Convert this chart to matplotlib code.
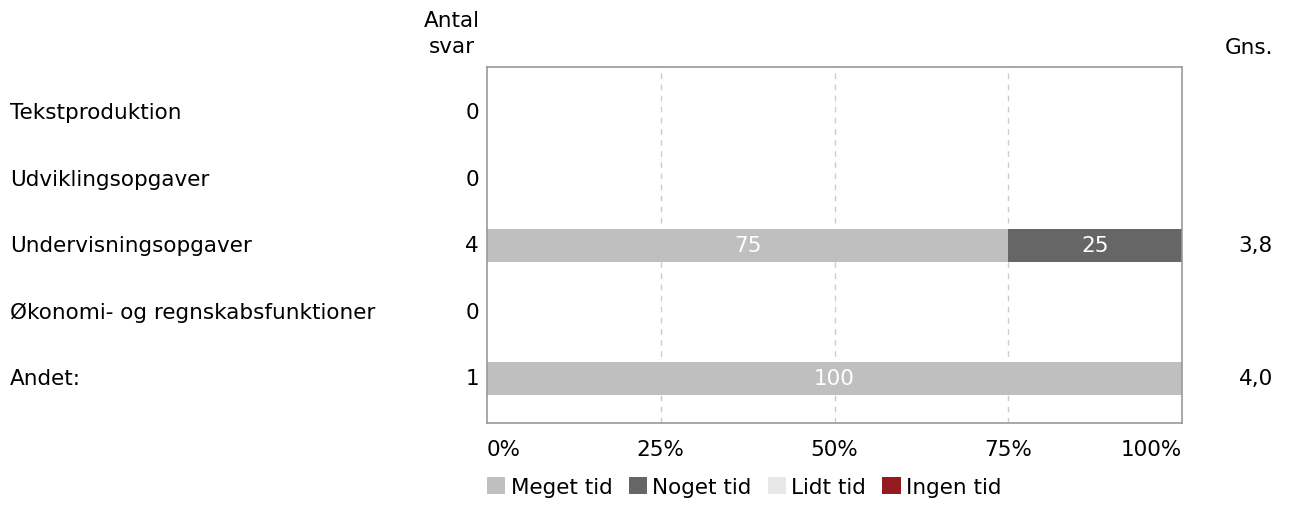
import matplotlib
matplotlib.use("Agg")
import matplotlib.pyplot as plt
from matplotlib.transforms import blended_transform_factory
from matplotlib.patches import Patch

categories = ["Tekstproduktion", "Udviklingsopgaver", "Undervisningsopgaver",
              "Økonomi- og regnskabsfunktioner", "Andet:"]
counts = [0, 0, 4, 0, 1]
means = ["", "", "3,8", "", "4,0"]
series_names = ["Meget tid", "Noget tid", "Lidt tid", "Ingen tid"]
meget = [0, 0, 75, 0, 100]
noget = [0, 0, 25, 0, 0]
lidt = [0, 0, 0, 0, 0]
ingen = [0, 0, 0, 0, 0]
colors = ["#bfbfbf", "#666666", "#e8e8e8", "#921b1f"]
xticks = [0, 25, 50, 75, 100]
xticklabels = ["0%", "25%", "50%", "75%", "100%"]

W, H = 1289, 506
fig = plt.figure(figsize=(W / 100, H / 100), dpi=100)
plt.rcParams['font.family'] = ['DejaVu Sans']
FS = 15.5

ax = fig.add_axes([487 / W, 1 - 424 / H, (1182 - 487) / W, (424 - 68) / H])
ax.set_xlim(0, 100)
ax.set_ylim(4.67, -0.68)

y = list(range(len(categories)))
left = [0] * len(categories)
for vals, col, name in zip([meget, noget, lidt, ingen], colors, series_names):
    bars = ax.barh(y, vals, left=left, height=0.5, color=col, label=name, zorder=2)
    for b, v, l in zip(bars, vals, left):
        if v > 0:
            ax.text(l + v / 2, b.get_y() + b.get_height() / 2, str(v), ha="center",
                    va="center", color="white", fontsize=FS, zorder=3)
    left = [a + b for a, b in zip(left, vals)]

for xv in [25, 50, 75]:
    ax.axvline(xv, color="#cccccc", lw=1, ls=(0, (4, 4)), zorder=1)

ax.set_xticks([])
ax.set_yticks([])
for s in ax.spines.values():
    s.set_color("#999999")
    s.set_linewidth(1.2)

# x tick labels
ttrans = blended_transform_factory(ax.transData, fig.transFigure)
for xv, lab in zip(xticks, xticklabels):
    ha = "left" if xv == 0 else ("right" if xv == 100 else "center")
    ax.text(xv, 1 - 450 / H, lab, transform=ttrans, ha=ha, va="center", fontsize=FS)

rtrans = blended_transform_factory(fig.transFigure, ax.transData)
for i, (cat, c, m) in enumerate(zip(categories, counts, means)):
    fig.text(10 / W, i, cat, transform=rtrans, ha="left", va="center", fontsize=FS)
    fig.text(479 / W, i, str(c), transform=rtrans, ha="right", va="center", fontsize=FS)
    if m:
        fig.text(1273 / W, i, m, transform=rtrans, ha="right", va="center", fontsize=FS)

fig.text(480 / W, 1 - 34 / H, "Antal\nsvar", ha="right", va="center", fontsize=FS,
         multialignment="center", linespacing=1.35)
fig.text(1273 / W, 1 - 48 / H, "Gns.", ha="right", va="center", fontsize=FS)

handles = [Patch(facecolor=c, label=n) for c, n in zip(colors, series_names)]
fig.legend(handles=handles, loc="center left", bbox_to_anchor=(487 / W, 1 - 488 / H),
           ncol=4, frameon=False, fontsize=FS, handlelength=0.85, handleheight=0.85,
           handletextpad=0.25, columnspacing=0.75, borderaxespad=0, borderpad=0)

fig.savefig("out.png", dpi=100)
